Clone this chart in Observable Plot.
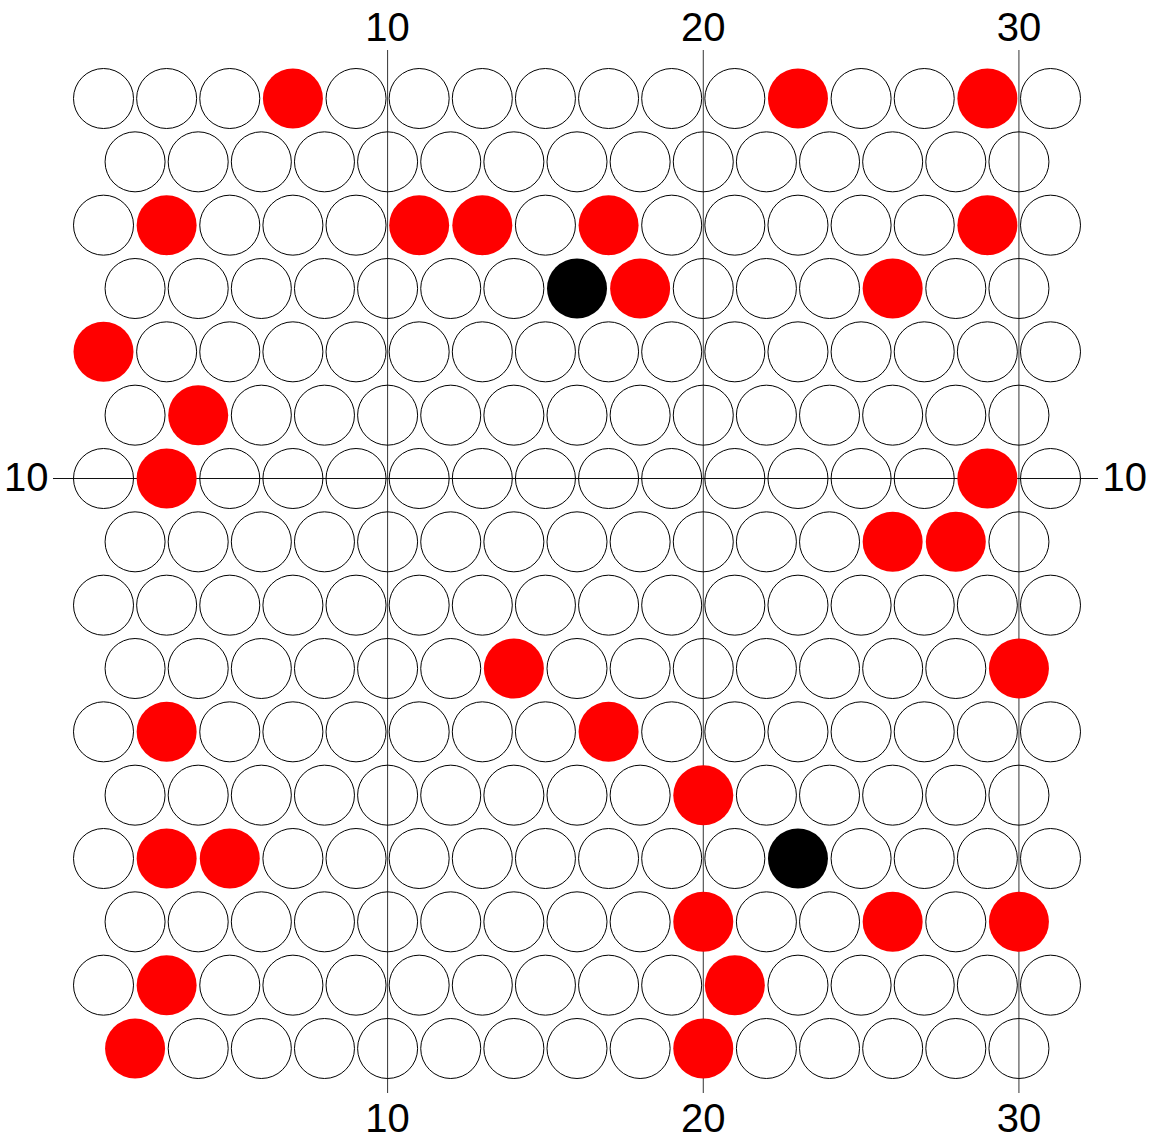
<!DOCTYPE html>
<html>
<head>
<meta charset="utf-8">
<script src="https://cdn.jsdelivr.net/npm/d3@7"></script>
<script src="https://cdn.jsdelivr.net/npm/@observablehq/plot@0.6"></script>
<style>
  html, body { margin: 0; padding: 0; background: #fff; }
</style>
</head>
<body>
<div id="chart"></div>
<script>
// Lattice rows (top to bottom) and column positions
const rowY = [16, 15, 14, 13, 12, 11, 10, 9, 8, 7, 6, 5, 4, 3, 2, 1];
const colsEvenRow = [1, 3, 5, 7, 9, 11, 13, 15, 17, 19, 21, 23, 25, 27, 29, 31]; // rows with even y
const colsOddRow = [2, 4, 6, 8, 10, 12, 14, 16, 18, 20, 22, 24, 26, 28, 30];     // rows with odd y

// Red cells [x, y]
const redCells = [
  [7, 16], [23, 16], [29, 16],
  [3, 14], [11, 14], [13, 14], [17, 14], [29, 14],
  [18, 13], [26, 13],
  [1, 12],
  [4, 11],
  [3, 10], [29, 10],
  [26, 9], [28, 9],
  [14, 7], [30, 7],
  [3, 6], [17, 6],
  [20, 5],
  [3, 4], [5, 4],
  [20, 3], [26, 3], [30, 3],
  [3, 2], [21, 2],
  [2, 1], [20, 1]
];
// Black cells [x, y]
const blackCells = [[16, 13], [23, 4]];

// Tick labels
const xTicks = [10, 20, 30];
const yTicks = [10];

const key = (x, y) => x + "," + y;
const special = new Set([...redCells, ...blackCells].map(([x, y]) => key(x, y)));
const emptyCells = [];
for (const y of rowY) {
  for (const x of (y % 2 === 0 ? colsEvenRow : colsOddRow)) {
    if (!special.has(key(x, y))) emptyCells.push({x, y});
  }
}
const reds = redCells.map(([x, y]) => ({x, y}));
const blacks = blackCells.map(([x, y]) => ({x, y}));

const font = "Liberation Sans, Arial, Helvetica, sans-serif";
const fmt = d => String(d);

const chart = Plot.plot({
  width: 1153,
  height: 1140,
  marginTop: 50,
  marginBottom: 47,
  marginLeft: 53,
  marginRight: 55,
  style: {fontFamily: font, background: "white"},
  x: {domain: [1, 31], insetLeft: 50, insetRight: 48},
  y: {domain: [1, 16], insetTop: 48, insetBottom: 45},
  marks: [
    Plot.ruleX(xTicks, {stroke: "#333", strokeWidth: 1}),
    Plot.ruleY(yTicks, {stroke: "#111", strokeWidth: 1}),
    Plot.dot(emptyCells, {x: "x", y: "y", r: 30, fill: "none", stroke: "black", strokeWidth: 1}),
    Plot.dot(reds, {x: "x", y: "y", r: 30, fill: "#ff0000", stroke: "none"}),
    Plot.dot(blacks, {x: "x", y: "y", r: 30, fill: "black", stroke: "none"}),
    Plot.axisX(xTicks, {anchor: "top", tickSize: 0, tickPadding: 10, fontSize: 40, fill: "black", label: null, tickFormat: fmt}),
    Plot.axisX(xTicks, {anchor: "bottom", tickSize: 0, tickPadding: 10, fontSize: 40, fill: "black", label: null, tickFormat: fmt}),
    Plot.axisY(yTicks, {anchor: "left", tickSize: 0, tickPadding: 5, fontSize: 40, fill: "black", label: null, tickFormat: fmt}),
    Plot.axisY(yTicks, {anchor: "right", tickSize: 0, tickPadding: 4, fontSize: 40, fill: "black", label: null, tickFormat: fmt})
  ]
});
document.getElementById("chart").appendChild(chart);
</script>
</body>
</html>
